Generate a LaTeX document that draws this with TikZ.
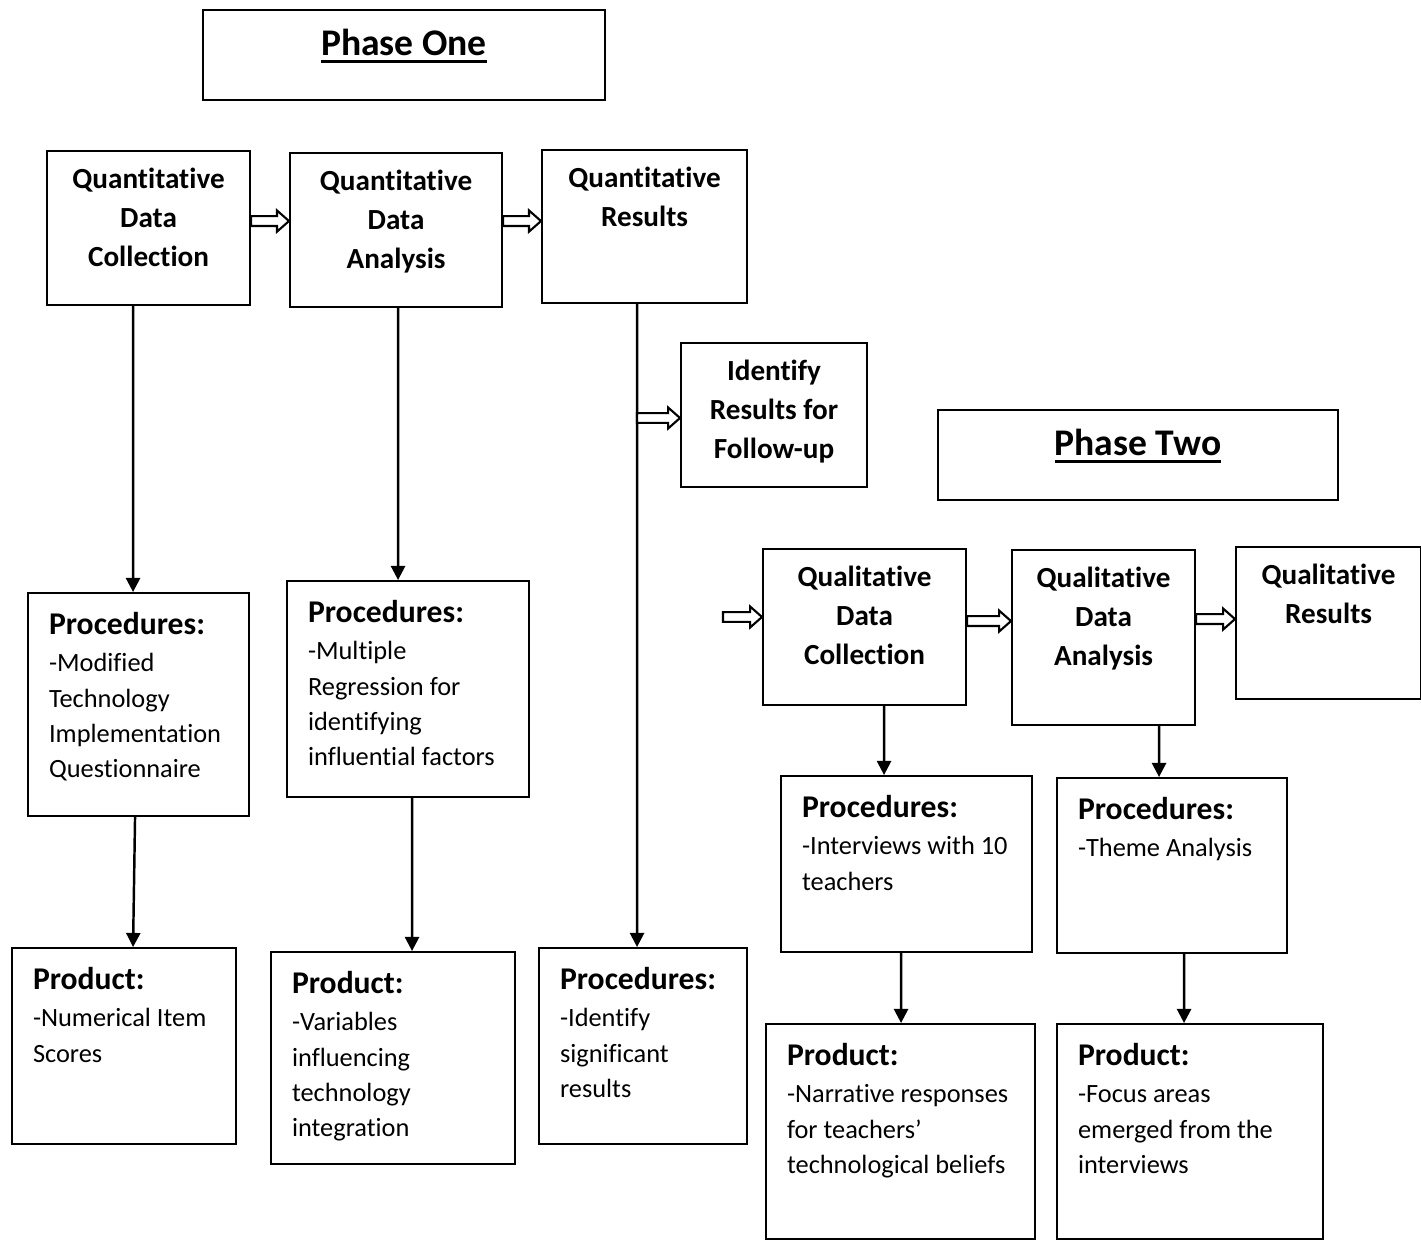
\documentclass[tikz,border=0pt]{standalone}
\usepackage{fontspec}
\setmainfont{Carlito}[Ligatures={NoCommon}]
\usetikzlibrary{calc,arrows.meta}

\newcommand{\phasefont}{\fontsize{10.7}{13}\selectfont\bfseries}
\newcommand{\stepfont}{\fontsize{8.3}{11.1}\selectfont\bfseries}
\newcommand{\headfont}{\fontsize{9}{11}\selectfont\bfseries}
\newcommand{\bodyfont}{\fontsize{7.5}{10}\selectfont\mdseries}
\newcommand{\phaseline}[1]{\setbox0\hbox{#1}\rlap{\rule[-2.2pt]{\wd0}{0.9pt}}\box0}
% box contents, top aligned: width, height, text
\newcommand{\stepbody}[3]{\parbox[t][#2][t]{#1}{\centering\stepfont #3}}
\newcommand{\procbody}[4]{\parbox[t][#2][t]{#1}{\raggedright\leftskip=2.1mm\headfont #3\par\vspace{0.7pt}\bodyfont #4}}

\begin{document}
\begin{tikzpicture}[x=0.1mm,y=-0.1mm,>={Triangle[width=4pt,length=4pt]},
	phasebox/.style={draw,line width=0.6pt,anchor=north west,inner sep=0pt,font=\phasefont},
	stepbox/.style={draw,line width=0.6pt,anchor=north west,inner xsep=0pt,inner ysep=1.7mm},
	procbox/.style={draw,line width=0.6pt,anchor=north west,inner xsep=0pt,inner ysep=1.9mm},
	link/.style={->,line width=0.7pt},
	blockarrow/.style={line width=0.6pt,fill=white,to path={
		let \p1=(\tikztostart), \p2=(\tikztotarget) in
		(\x1,\y1+1.4pt) -- (\x2-3.4pt,\y1+1.4pt) -- (\x2-3.4pt,\y1+3pt) -- (\x2,\y1)
		-- (\x2-3.4pt,\y1-3pt) -- (\x2-3.4pt,\y1-1.4pt) -- (\x1,\y1-1.4pt) -- cycle}}]
	
	\useasboundingbox (0,0) rectangle (1421,1240);
	
	% phase one
	\node[phasebox,minimum width=40.2mm,minimum height=9mm] (phaseone) at (202,9) {\smash{\phaseline{Phase One}}};
	
	\node[stepbox] (qncollect) at (46,150) {\stepbody{20.3mm}{12mm}{Quantitative\\Data\\Collection}};
	\node[stepbox] (qnanalysis) at (289,152) {\stepbody{21.2mm}{12mm}{Quantitative\\Data\\Analysis}};
	\node[stepbox] (qnresults) at (541,149) {\stepbody{20.5mm}{11.9mm}{Quantitative\\Results}};
	\node[stepbox] (identify) at (680,342) {\stepbody{18.6mm}{11mm}{Identify\\Results for\\Follow-up}};
	
	\node[procbox] (procone) at (27,592) {\procbody{22.1mm}{18.5mm}{Procedures:}{-Modified\\Technology\\Implementation\\Questionnaire}};
	\node[procbox] (proctwo) at (286,580) {\procbody{24.2mm}{17.8mm}{Procedures:}{-Multiple\\Regression for\\identifying\\influential factors}};
	\node[procbox] (procthree) at (538,947) {\procbody{20.8mm}{15.8mm}{Procedures:}{-Identify\\significant\\results}};
	\node[procbox] (prodone) at (11,947) {\procbody{22.4mm}{15.8mm}{Product:}{-Numerical Item\\Scores}};
	\node[procbox] (prodtwo) at (270,951) {\procbody{24.4mm}{17.4mm}{Product:}{-Variables\\influencing\\technology\\integration}};
	
	% phase two
	\node[phasebox,minimum width=40mm,minimum height=9mm] (phasetwo) at (937,409) {\smash{\phaseline{Phase Two}}};
	
	\node[stepbox] (qlcollect) at (762,548) {\stepbody{20.3mm}{12.2mm}{Qualitative\\Data\\Collection}};
	\node[stepbox] (qlanalysis) at (1011,549) {\stepbody{18.3mm}{14.1mm}{Qualitative\\Data\\Analysis}};
	\node[stepbox] (qlresults) at (1235,546) {\stepbody{18.5mm}{11.8mm}{Qualitative\\Results}};
	
	\node[procbox] (procfour) at (780,775) {\procbody{25.1mm}{13.8mm}{Procedures:}{-Interviews with 10\\teachers}};
	\node[procbox] (procfive) at (1056,777) {\procbody{23mm}{13.7mm}{Procedures:}{-Theme Analysis}};
	\node[procbox] (prodfour) at (765,1023) {\procbody{26.9mm}{17.7mm}{Product:}{-Narrative responses\\for teachers’\\technological beliefs}};
	\node[procbox] (prodfive) at (1056,1023) {\procbody{26.6mm}{17.7mm}{Product:}{-Focus areas\\emerged from the\\interviews}};
	
	\coordinate (fork) at (637,418);
	\coordinate (qlstart) at (723,617);
	
	% down arrows
	\draw[link] ([xshift=-1.55mm]qncollect.south) -- ([xshift=-0.55mm]procone.north);
	\draw[link] ([xshift=-0.35mm]procone.south) -- ([xshift=0.9mm]prodone.north);
	\draw[link] ([xshift=0.2mm]qnanalysis.south) -- ([xshift=-1mm]proctwo.north);
	\draw[link] ([xshift=0.4mm]proctwo.south) -- ([xshift=1.9mm]prodtwo.north);
	\draw[link] ([xshift=-0.75mm]qnresults.south) -- ([xshift=-0.6mm]procthree.north);
	\draw[link] ([xshift=1.95mm]qlcollect.south) -- ([xshift=-2.25mm]procfour.north);
	\draw[link] ([xshift=-0.55mm]procfour.south) -- ([xshift=0.05mm]prodfour.north);
	\draw[link] ([xshift=5.55mm]qlanalysis.south) -- ([xshift=-1.3mm]procfive.north);
	\draw[link] ([xshift=1.2mm]procfive.south) -- ([xshift=-0.6mm]prodfive.north);
	
	% block arrows
	\draw[blockarrow] ([yshift=0.7mm]qncollect.east) to (qnanalysis.west);
	\draw[blockarrow] ([yshift=0.9mm]qnanalysis.east) to (qnresults.west);
	\draw[blockarrow] (fork) to (identify.west);
	\draw[blockarrow] (qlstart) to (qlcollect.west);
	\draw[blockarrow] ([yshift=0.6mm]qlcollect.east) to (qlanalysis.west);
	\draw[blockarrow] ([yshift=1.85mm]qlanalysis.east) to (qlresults.west);
	
\end{tikzpicture}
\end{document}
